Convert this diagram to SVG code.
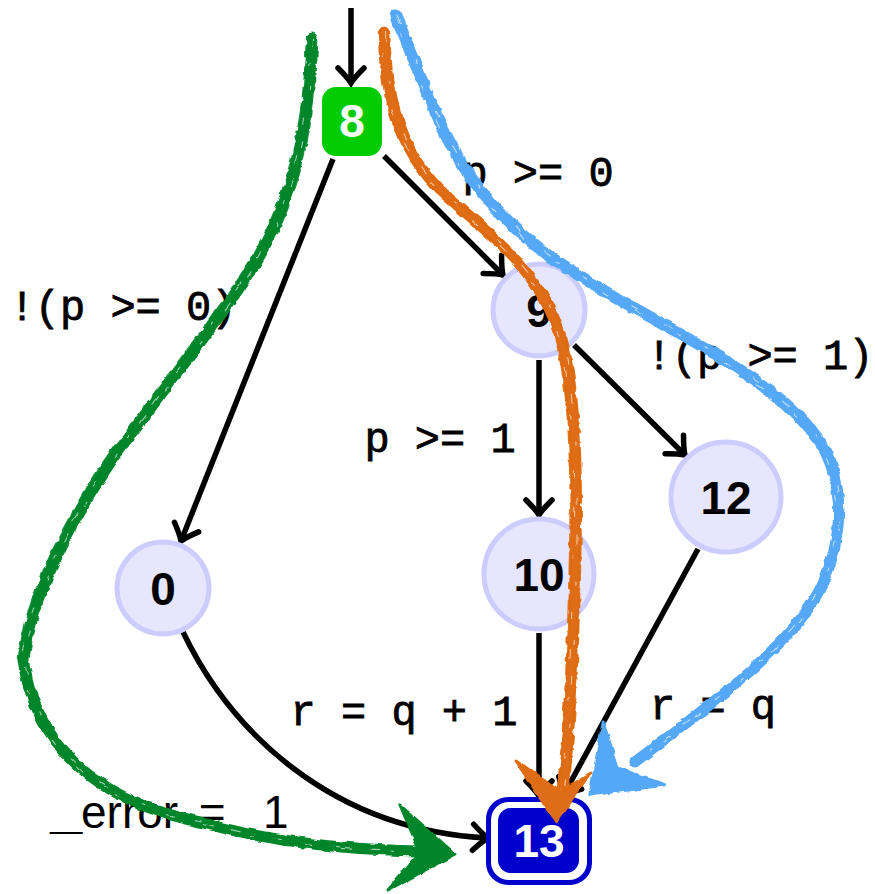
<svg xmlns="http://www.w3.org/2000/svg" xmlns:xlink="http://www.w3.org/1999/xlink" width="875" height="894" viewBox="0 0 875 894">
<style>
.edge{fill:none;stroke:#000;stroke-width:5.5;marker-end:url(#arr)}
.circ{fill:#e6e6ff;stroke:#ccccff;stroke-width:5}
.nlab{font-family:"Liberation Sans",Arial,sans-serif;font-weight:bold;font-size:46px;text-anchor:middle}
.elab{font-family:"Liberation Mono","Courier New",monospace;font-size:42px;text-anchor:middle;fill:#000;stroke:#000;stroke-width:0.8}
.brush{fill:none;stroke-width:11;stroke-linecap:round;stroke-linejoin:round}
.fray{fill:none;stroke-width:2.6;stroke-linecap:round;stroke-dasharray:22 5 9 12 30 7;opacity:.9}
.streak{fill:none;stroke:#fff;stroke-width:1.1;stroke-dasharray:10 38 4 52 7 30;opacity:.6}
</style>
<defs>
<marker id="arr" markerUnits="userSpaceOnUse" viewBox="-20 -18 24 36" refX="0" refY="0" markerWidth="24" markerHeight="36" orient="auto">
<path d="M-15,-13 Q-5,-3 0,0 Q-5,3 -15,13" fill="none" stroke="#000" stroke-width="5.5" stroke-linecap="round"/>
</marker>
<filter id="rough" filterUnits="userSpaceOnUse" x="0" y="0" width="875" height="894">
<feTurbulence type="fractalNoise" baseFrequency="0.09" numOctaves="2" seed="4" result="n"/>
<feDisplacementMap in="SourceGraphic" in2="n" scale="4.5" xChannelSelector="R" yChannelSelector="G"/>
</filter>
<path id="pg" d="M312,38 C310,110 300,175 268,240 C240,295 170,380 115,455 C70,520 30,600 23,660 C35,740 90,800 200,822 C280,845 360,850 420,851"/>
<path id="po" d="M384,32 C386,100 400,150 440,190 C490,235 540,270 560,335 C578,400 577,500 574,600 C572,680 568,740 563,790"/>
<path id="pb" d="M395,15 C420,70 440,140 480,190 C520,240 560,265 620,300 C700,345 790,390 825,450 C850,500 840,570 800,620 C760,670 690,720 635,762"/>
</defs>
<rect width="875" height="894" fill="#fff"/>
<g id="connectors">
<line class="edge" x1="351" y1="8" x2="351" y2="83"/>
<line class="edge" x1="384" y1="156" x2="503" y2="275"/>
<line class="edge" x1="333" y1="159" x2="181" y2="541"/>
<line class="edge" x1="539" y1="360" x2="539" y2="515"/>
<line class="edge" x1="574" y1="345" x2="685" y2="455"/>
<path class="edge" d="M183,632 C230,730 330,830 488,838"/>
<line class="edge" x1="539" y1="633" x2="539" y2="796"/>
<line class="edge" x1="698" y1="549" x2="563" y2="796"/>
</g>
<g id="node8">
<rect x="322" y="87" width="60" height="69" rx="14" fill="#00cc00"/>
<text class="nlab" x="352" y="137" fill="#fff" font-size="42">8</text>
</g>
<g id="node9">
<circle class="circ" cx="539" cy="310" r="46"/>
<text class="nlab" x="539" y="327">9</text>
</g>
<g id="node0">
<circle class="circ" cx="163" cy="588" r="46"/>
<text class="nlab" x="163" y="605">0</text>
</g>
<g id="node10">
<circle class="circ" cx="539" cy="574" r="55"/>
<text class="nlab" x="539" y="591">10</text>
</g>
<g id="node12">
<circle class="circ" cx="726" cy="497" r="55"/>
<text class="nlab" x="726" y="514">12</text>
</g>
<g id="node13">
<rect x="486" y="797" width="106" height="88" rx="22" fill="#0000cc"/>
<rect x="491" y="802" width="96" height="78" rx="18" fill="#fff"/>
<rect x="498" y="808" width="81" height="65" rx="13" fill="#0000cc"/>
<text class="nlab" x="539" y="857" fill="#fff">13</text>
</g>
<g id="labels">
<text class="elab" x="538" y="186">p &gt;= 0</text>
<text class="elab" x="123" y="320">!(p &gt;= 0)</text>
<text class="elab" x="760" y="369">!(p &gt;= 1)</text>
<text class="elab" x="440" y="452">p &gt;= 1</text>
<text class="elab" x="404" y="725">r = q + 1</text>
<text class="elab" x="713" y="719">r = q</text>
<text y="828" font-family="'Liberation Sans',Arial,sans-serif" font-size="46" xml:space="preserve"><tspan x="50" font-size="29">__</tspan><tspan x="81">error</tspan><tspan x="186"> = </tspan><tspan x="263">1</tspan></text>
</g>
<g id="path-green" filter="url(#rough)">
<use xlink:href="#pg" class="brush" stroke="#00862b" stroke-width="12"/>
<use xlink:href="#pg" class="fray" stroke="#00862b" transform="translate(5,1)"/>
<use xlink:href="#pg" class="fray" stroke="#00862b" transform="translate(-5,-2)" stroke-dashoffset="17"/>
<use xlink:href="#pg" class="streak" transform="translate(1.5,0)"/>
<use xlink:href="#pg" class="streak" transform="translate(-2,1)" stroke-dashoffset="25"/>
<polygon points="400,805 455,854 388,890 420,852" fill="#00862b" stroke="#00862b" stroke-width="3" stroke-linejoin="round"/>
</g>
<g id="path-orange" filter="url(#rough)">
<use xlink:href="#po" class="brush" stroke="#df6c12"/>
<use xlink:href="#po" class="fray" stroke="#df6c12" transform="translate(5,0)"/>
<use xlink:href="#po" class="fray" stroke="#df6c12" transform="translate(-5,0)" stroke-dashoffset="13"/>
<use xlink:href="#po" class="streak" transform="translate(1.5,0)"/>
<use xlink:href="#po" class="streak" transform="translate(-2,0)" stroke-dashoffset="27"/>
<polygon points="515,760 557,822 590,773 560,792" fill="#df6c12" stroke="#df6c12" stroke-width="3" stroke-linejoin="round"/>
</g>
<g id="path-blue" filter="url(#rough)">
<use xlink:href="#pb" class="brush" stroke="#55a8f5" stroke-width="10"/>
<use xlink:href="#pb" class="fray" stroke="#55a8f5" transform="translate(4,-3)"/>
<use xlink:href="#pb" class="fray" stroke="#55a8f5" transform="translate(-4,3)" stroke-dashoffset="19"/>
<use xlink:href="#pb" class="streak" transform="translate(1.5,0)"/>
<use xlink:href="#pb" class="streak" transform="translate(-2,1)" stroke-dashoffset="29"/>
<polygon points="603,722 590,795 665,785 618,768" fill="#55a8f5" stroke="#55a8f5" stroke-width="3" stroke-linejoin="round"/>
</g>
</svg>
